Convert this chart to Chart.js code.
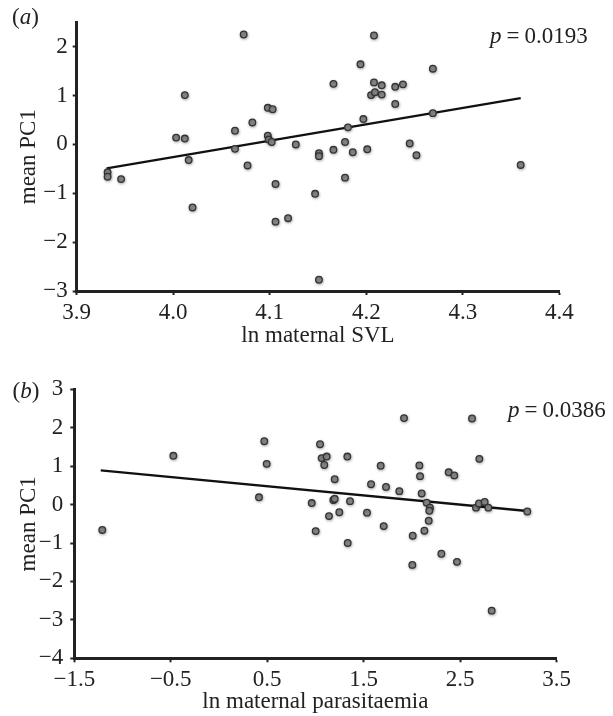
<!DOCTYPE html>
<html>
<head>
<meta charset="utf-8">
<style>
  html, body { margin: 0; padding: 0; background: #fff; }
  #wrap { position: relative; width: 613px; height: 716px; overflow: hidden; }
  #wrap canvas { position: absolute; left: 0; }
  #chartA { top: 0; }
  #chartB { top: 350px; }
</style>
<script src="https://cdn.jsdelivr.net/npm/chart.js@4.4.1/dist/chart.umd.min.js"></script>
</head>
<body>
<div id="wrap">
  <canvas id="chartA" width="613" height="350"></canvas>
  <canvas id="chartB" width="613" height="366"></canvas>
</div>
<script>
// ---- data: panel (a), mean PC1 vs ln maternal SVL ----
const svlX = [3.932, 3.932, 3.946, 4.003, 4.012, 4.012, 4.016, 4.020, 4.064, 4.064,
  4.073, 4.077, 4.082, 4.098, 4.103, 4.098, 4.099, 4.102, 4.106, 4.106,
  4.119, 4.127, 4.147, 4.151, 4.151, 4.151, 4.166, 4.166, 4.178, 4.178,
  4.181, 4.186, 4.194, 4.197, 4.201, 4.205, 4.208, 4.208, 4.209, 4.216,
  4.216, 4.230, 4.230, 4.238, 4.245, 4.252, 4.269, 4.269, 4.360];
const svlPC1 = [-0.57, -0.66, -0.71, 0.14, 0.12, 1.01, -0.32, -1.29, 0.28, -0.09,
  2.25, -0.43, 0.45, 0.75, 0.72, 0.18, 0.10, 0.05, -0.81, -1.58,
  -1.51, 0.00, -1.01, -0.18, -0.24, -2.77, 1.24, -0.11, 0.05, -0.68,
  0.35, -0.16, 1.64, 0.52, -0.10, 1.01, 2.23, 1.27, 1.07, 1.21,
  1.02, 1.18, 0.83, 1.23, 0.02, -0.22, 1.55, 0.64, -0.42];
const svlFitX = [3.931, 4.360];
const svlFitY = [-0.49, 0.95];
const svlXTicks = [3.9, 4.0, 4.1, 4.2, 4.3, 4.4];
const svlYTicks = [-3, -2, -1, 0, 1, 2];

// ---- data: panel (b), mean PC1 vs ln maternal parasitaemia ----
const parX = [-1.21, -0.473, 0.415, 0.47, 0.495, 0.962, 1.003, 1.048, 1.065, 1.117,
  1.092, 1.20, 1.186, 1.20, 1.141, 1.248, 1.331, 1.335, 1.359, 1.535,
  1.577, 1.677, 1.708, 1.732, 1.87, 1.919, 2.009, 2.005, 2.078, 2.085,
  2.102, 2.13, 2.154, 2.188, 2.181, 2.175, 2.306, 2.382, 2.44, 2.468,
  2.624, 2.665, 2.696, 2.70, 2.755, 2.793, 2.828, 3.197];
const parPC1 = [-0.66, 1.27, 0.19, 1.65, 1.06, 0.04, -0.69, 1.57, 1.21, 1.25,
  1.03, 0.66, 0.12, 0.15, -0.30, -0.20, 1.25, -1.00, 0.09, -0.21,
  0.53, 1.01, -0.56, 0.46, 0.35, 2.25, -0.81, -1.57, 1.02, 0.74,
  0.29, -0.68, 0.05, -0.08, -0.16, -0.42, -1.28, 0.84, 0.76, -1.49,
  2.24, -0.08, 0.03, 1.19, 0.07, -0.08, -2.76, -0.18];
const parFitX = [-1.226, 3.197];
const parFitY = [0.89, -0.167];
const parXTicks = [-1.5, -0.5, 0.5, 1.5, 2.5, 3.5];
const parYTicks = [-4, -3, -2, -1, 0, 1, 2, 3];

const SERIF = "'Liberation Serif', 'DejaVu Serif', serif";
const INK = "#222";
Chart.defaults.font.family = SERIF;
Chart.defaults.color = INK;

function minus(s) {
  return String(s).replace("-", "\u2212");
}

function pairs(xs, ys) {
  return xs.map((x, i) => ({ x: x, y: ys[i] }));
}

// soft shadow under the dots, like the printed figure
const dotShadow = {
  id: "dotShadow",
  beforeDatasetDraw(chart, args) {
    if (args.index !== 0) return;
    const ctx = chart.ctx;
    ctx.save();
    ctx.shadowColor = "rgba(0,0,0,0.3)";
    ctx.shadowBlur = 3;
    ctx.shadowOffsetX = 0.5;
    ctx.shadowOffsetY = 1;
  },
  afterDatasetDraw(chart, args) {
    if (args.index !== 0) return;
    chart.ctx.restore();
  },
};

// panel letter and p value, with italic parts
const notes = {
  id: "notes",
  afterDraw(chart, args, opts) {
    const ctx = chart.ctx;
    ctx.save();
    ctx.fillStyle = INK;
    ctx.textBaseline = "alphabetic";
    const normal = "23px " + SERIF;
    const italic = "italic 23px " + SERIF;
    let x = opts.letterX;
    [["(", normal], [opts.letter, italic], [")", normal]].forEach(([t, f]) => {
      ctx.font = f;
      ctx.fillText(t, x, opts.letterY);
      x += ctx.measureText(t).width;
    });
    x = opts.pX;
    ctx.font = italic;
    ctx.fillText("p", x, opts.pY);
    x += ctx.measureText("p").width + 5;
    ctx.font = normal;
    ctx.fillText("=", x, opts.pY);
    x += ctx.measureText("=").width + 5;
    ctx.fillText(opts.pValue, x, opts.pY);
    ctx.restore();
  },
};

function makePanel(id, cfg) {
  const axisLine = { display: true, color: INK, width: 3 };
  const gridTicks = {
    drawOnChartArea: false,
    drawTicks: true,
    tickLength: 4,
    tickWidth: 2,
    tickColor: INK,
  };
  return new Chart(document.getElementById(id), {
    type: "scatter",
    data: {
      datasets: [
        {
          data: pairs(cfg.xs, cfg.ys),
          pointRadius: 3.3,
          pointBackgroundColor: "#8a8a8a",
          pointBorderColor: "#333",
          pointBorderWidth: 1.3,
          order: 0,
        },
        {
          type: "line",
          data: pairs(cfg.fitX, cfg.fitY),
          borderColor: "#111",
          borderWidth: 2.3,
          pointRadius: 0,
          fill: false,
          order: 1,
        },
      ],
    },
    options: {
      responsive: false,
      animation: false,
      layout: { padding: { top: cfg.top, right: cfg.right, left: 0, bottom: 0 } },
      plugins: {
        legend: { display: false },
        tooltip: { enabled: false },
        notes: cfg.notes,
      },
      scales: {
        x: {
          type: "linear",
          min: cfg.xTicks[0],
          max: cfg.xTicks[cfg.xTicks.length - 1],
          afterBuildTicks: (axis) => { axis.ticks = cfg.xTicks.map((v) => ({ value: v })); },
          afterFit: (axis) => { axis.height = cfg.xHeight; },
          border: axisLine,
          grid: gridTicks,
          ticks: {
            font: { size: 23 },
            padding: cfg.xPad,
            maxRotation: 0,
            autoSkip: false,
            callback: (v) => minus(Number(v).toFixed(1)),
          },
          title: {
            display: true,
            text: cfg.xTitle,
            font: { size: 23 },
            padding: { top: 0, bottom: cfg.xTitlePad },
          },
        },
        y: {
          type: "linear",
          min: cfg.yMin,
          max: cfg.yMax,
          afterBuildTicks: (axis) => { axis.ticks = cfg.yTicks.map((v) => ({ value: v })); },
          afterFit: (axis) => { axis.width = cfg.left; },
          border: axisLine,
          grid: gridTicks,
          ticks: {
            font: { size: 23 },
            padding: cfg.yPad,
            autoSkip: false,
            callback: (v) => minus(v),
          },
          title: {
            display: true,
            text: "mean PC1",
            font: { size: 23 },
            padding: { top: 15, bottom: 0 },
          },
        },
      },
    },
    plugins: [dotShadow, notes],
  });
}

makePanel("chartA", {
  xs: svlX, ys: svlPC1, fitX: svlFitX, fitY: svlFitY,
  xTicks: svlXTicks, yTicks: svlYTicks, yMin: -3, yMax: 2.5,
  xTitle: "ln maternal SVL",
  top: 22.3, right: 53.7, left: 76.7, xHeight: 59,
  xPad: 4, yPad: 5, xTitlePad: 0,
  notes: { letter: "a", letterX: 12, letterY: 24, pX: 490, pY: 43, pValue: "0.0193" },
});

makePanel("chartB", {
  xs: parX, ys: parPC1, fitX: parFitX, fitY: parFitY,
  xTicks: parXTicks, yTicks: parYTicks, yMin: -4, yMax: 3,
  xTitle: "ln maternal parasitaemia",
  top: 39.3, right: 56.5, left: 74.3, xHeight: 57.7,
  xPad: 4, yPad: 7, xTitlePad: 0,
  notes: { letter: "b", letterX: 12.5, letterY: 47.5, pX: 508, pY: 67, pValue: "0.0386" },
});
</script>
</body>
</html>
